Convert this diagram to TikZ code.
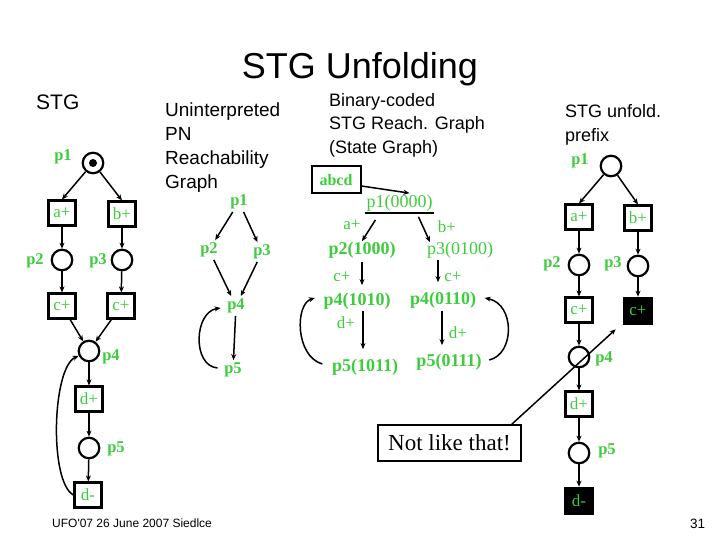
\documentclass[tikz,border=0pt]{standalone}
\usepackage{fontspec}
\setmainfont{Liberation Serif}
\newfontfamily\arialf{Liberation Sans}
\usetikzlibrary{arrows.meta,calc}
\definecolor{lgreen}{RGB}{60,205,60}
\begin{document}
\begin{tikzpicture}[x=1pt,y=-1pt,
  place/.style={circle,draw,line width=2.2pt,minimum size=20.5pt,inner sep=0pt},
  tr/.style={rectangle,draw,line width=2.6pt,minimum width=26.5pt,minimum height=24.5pt,inner sep=0pt,text=lgreen,font=\fontsize{17}{17}\selectfont},
  btr/.style={tr,fill=black,minimum width=28pt,minimum height=26pt},
  glab/.style={text=lgreen,inner sep=0pt,font=\fontsize{16.5}{16.5}\selectfont\bfseries},
  rlab/.style={glab,inner sep=2.5pt},
  st/.style={text=lgreen,inner sep=1.5pt,font=\fontsize{18}{18}\selectfont\bfseries},
  stn/.style={st,font=\fontsize{18}{18}\selectfont},
  elab/.style={text=lgreen,inner sep=0pt,font=\fontsize{17}{17}\selectfont},
  arr/.style={line width=1.5pt,-{Stealth[length=6pt,width=5pt]}},
  txt/.style={inner sep=0pt,anchor=base west},
  hd/.style={txt,font=\arialf\fontsize{18}{18}\selectfont}
]
\fill[white] (0,0) rectangle (720,540);
\useasboundingbox (0,0) rectangle (720,540);

% headings
\node[txt,anchor=base,font=\arialf\fontsize{36}{36}\selectfont] (title) at (360,79) {STG Unfolding};
\node[txt,font=\arialf\fontsize{21}{21}\selectfont] (stgt) at (36,110) {STG};
\node[hd,font=\arialf\fontsize{19}{19}\selectfont] (h1) at (165,117) {Uninterpreted};
\node[hd,font=\arialf\fontsize{19}{19}\selectfont] (h2) at (165,141) {PN};
\node[hd,font=\arialf\fontsize{19}{19}\selectfont] (h3) at (165,165) {Reachability};
\node[hd,font=\arialf\fontsize{19}{19}\selectfont] (h4) at (165,189) {Graph};
\node[hd] (b1) at (329,107) {Binary-coded};
\node[hd] (b2) at (329,130) {STG Reach. Graph};
\node[hd] (b3) at (329,154) {(State Graph)};
\node[hd] (f1) at (565,118) {STG unfold.};
\node[hd] (f2) at (565,142) {prefix};
\node[txt,font=\arialf\fontsize{12}{12}\selectfont] (foot) at (52,527) {UFO'07 26 June 2007 Siedlce};
\node[txt,font=\arialf\fontsize{13.5}{13.5}\selectfont] (pg) at (690,528) {31};

% ---------- STG ----------
\node[place] (sp1) at (93,163) {};
\node[circle,fill=black,minimum size=8pt,inner sep=0pt] (tok) at (93,163) {};
\node[tr] (sa) at (62,213) {a+};
\node[tr] (sb) at (122,214) {b+};
\node[place] (sp2) at (62,260) {};
\node[place] (sp3) at (122,260) {};
\node[tr] (sc1) at (62,306) {c+};
\node[tr] (sc2) at (121,306) {c+};
\node[place] (sp4) at (89,351) {};
\node[tr] (sd1) at (89,399) {d+};
\node[place] (sp5) at (89,448) {};
\node[tr] (sd2) at (88,495) {d-};
\node[glab] (lp1) at (63,157) {p1};
\node[glab] (lp2) at (35,261) {p2};
\node[glab] (lp3) at (98,261) {p3};
\node[glab] (lp4) at (111,357) {p4};
\node[glab] (lp5) at (116,449) {p5};
\draw[arr] (sp1) -- (sa.north);
\draw[arr] (sp1) -- (sb.north);
\draw[arr] (sa) -- (sp2);
\draw[arr] (sb) -- (sp3);
\draw[arr] (sp2) -- (sc1);
\draw[arr] (sp3) -- (sc2);
\draw[arr] (sc1) -- (sp4);
\draw[arr] (sc2) -- (sp4);
\draw[arr] (sp4) -- (sd1);
\draw[arr] (sd1) -- (sp5);
\draw[arr] (sp5) -- (sd2);
\draw[arr] (sd2.west) .. controls (49,482) and (52,368) .. (sp4);

% ---------- Reachability graph ----------
\node[rlab] (r1) at (239,202) {p1};
\node[rlab] (r2) at (209,250) {p2};
\node[rlab] (r3) at (262,252) {p3};
\node[rlab] (r4) at (236,306) {p4};
\node[rlab] (r5) at (233,370) {p5};
\draw[arr] (r1) -- (r2);
\draw[arr] (r1) -- (r3);
\draw[arr] (r2) -- (r4);
\draw[arr] (r3) -- (r4);
\draw[arr] (r4) -- (r5);
\draw[arr] ($(r5.west)+(-4,-2)$) .. controls (192,366) and (194,312) .. ($(r4.west)+(-4,2)$);

% ---------- State graph ----------
\node[draw,line width=2pt,minimum width=49pt,minimum height=27pt,inner sep=0pt,text=lgreen,font=\fontsize{16}{16}\selectfont\bfseries] (s0) at (336,180) {abcd};
\node[stn] (s1) at (399.5,203) {p1(0000)};
\draw[line width=1.6pt] (s1.south west) -- (s1.south east);
\node[st] (s2) at (362,250) {p2(1000)};
\node[stn] (s3) at (460,250) {p3(0100)};
\node[st] (s4) at (357,301) {p4(1010)};
\node[st] (s5) at (443,300) {p4(0110)};
\node[st] (s6) at (365,367) {p5(1011)};
\node[st] (s7) at (449,362) {p5(0111)};
\node[elab] (e1) at (352,225) {a+};
\node[elab] (e2) at (447,227) {b+};
\node[elab] (e3) at (342,277) {c+};
\node[elab] (e4) at (453,277) {c+};
\node[elab] (e5) at (346,323) {d+};
\node[elab] (e6) at (458,333) {d+};
\draw[arr] ($(s0.east)+(0,6)$) -- ($(s1.north)+(10,0)$);
\draw[arr] ($(s1.south)+(-24,7)$) -- ($(s2.north)+(0,1)$);
\draw[arr] ($(s1.south)+(19,4)$) -- ($(s3.north)+(-30,2)$);
\draw[arr] ($(s2.south)+(0,2)$) -- ($(s4.north)+(5,-6)$);
\draw[arr] ($(s3.south)+(-22,0)$) -- ($(s5.north)+(-5,-8)$);
\draw[arr] ($(s4.south)+(6,0)$) -- ($(s6.north)+(-2,-8)$);
\draw[arr] ($(s5.south)+(-1,1)$) -- ($(s7.north)+(-7,-7)$);
\draw[arr] ($(s6.west)+(-8,-3)$) .. controls (295,356) and (295,304) .. ($(s4.west)+(-7,-3)$);
\draw[arr] ($(s7.east)+(6,-2)$) .. controls (515,354) and (515,304) .. ($(s5.east)+(7,-2)$);

% ---------- Unfolding prefix ----------
\node[place] (u1) at (611,166) {};
\node[tr] (ua) at (579,217) {a+};
\node[tr] (ub) at (638,218) {b+};
\node[place] (u2) at (579,265) {};
\node[place] (u3) at (638,266) {};
\node[tr] (uc) at (579,310) {c+};
\node[btr] (ud) at (638,311) {c+};
\node[place] (u4) at (579,357) {};
\node[tr] (ue) at (579,404) {d+};
\node[place] (u5) at (579,453) {};
\node[btr] (uf) at (579,501) {d-};
\node[glab] (lu1) at (580,161) {p1};
\node[glab] (lu2) at (552,264) {p2};
\node[glab] (lu3) at (613,264) {p3};
\node[glab] (lu4) at (604,359) {p4};
\node[glab] (lu5) at (607,451) {p5};
\draw[arr] (u1) -- (ua.north);
\draw[arr] (u1) -- (ub.north);
\draw[arr] (ua) -- (u2);
\draw[arr] (ub) -- (u3);
\draw[arr] (u2) -- (uc);
\draw[arr] (u3) -- (ud);
\draw[arr] (uc) -- (u4);
\draw[arr] (u4) -- (ue);
\draw[arr] (ue) -- (u5);
\draw[arr] (u5) -- (uf);

\node[draw,line width=1.8pt,minimum width=143pt,minimum height=36pt,inner sep=0pt,font=\fontsize{23}{23}\selectfont] (nl) at (449.5,443) {Not like that!};
\draw[arr] ($(nl.north east)+(-10,0)$) -- ($(ud.south west)+(-7,4)$);
\end{tikzpicture}
\end{document}
